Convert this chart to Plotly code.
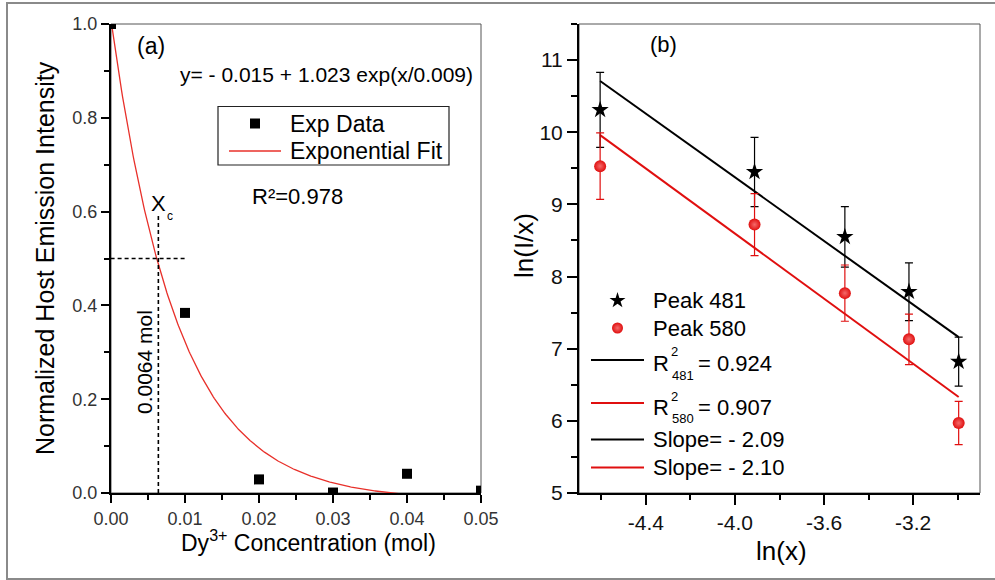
import numpy as np
import plotly.graph_objects as go

W, H = 995, 580
FONT = "Liberation Sans, Arial, sans-serif"

# ---------------- data: panel (a) ----------------
conc = [0.0, 0.01, 0.02, 0.03, 0.04, 0.05]
norm_intensity = [1.0, 0.384, 0.029, 0.001, 0.041, 0.005]
fit_offset, fit_amp, fit_decay = -0.015, 1.023, 0.009
fit_xmax = 0.039
xc_value = 0.0064
half_level = 0.5
xa_ticks = [0.0, 0.01, 0.02, 0.03, 0.04, 0.05]
ya_ticks = [0.0, 0.2, 0.4, 0.6, 0.8, 1.0]

# ---------------- data: panel (b) ----------------
conc_b = [0.01, 0.02, 0.03, 0.04, 0.05]
peak481 = [10.31, 9.45, 8.55, 7.79, 6.82]
err481 = [0.52, 0.48, 0.42, 0.40, 0.34]
peak580 = [9.53, 8.72, 7.77, 7.13, 5.97]
err580 = [0.46, 0.43, 0.39, 0.35, 0.30]
line481_ends = [10.71, 7.16]
line580_ends = [9.96, 6.33]
xb_ticks = [-4.4, -4.0, -3.6, -3.2]
xb_ticklabels = ["-4.4", "-4.0", "-3.6", "-3.2"]
yb_ticks = [5, 6, 7, 8, 9, 10, 11]

lnx = list(np.log(conc_b))
line_x = [lnx[0], lnx[-1]]

RED = "#e00f0f"
FIT_RED = "#e8302a"


def px(x):
    return x / W


def py(y):
    return 1 - y / H


fig = go.Figure()

# ---- panel (a) ----
xf = np.linspace(0, fit_xmax, 300)
yf = fit_offset + fit_amp * np.exp(-xf / fit_decay)
fig.add_trace(go.Scatter(x=xf, y=yf, mode="lines", line=dict(color=FIT_RED, width=1.3),
                         xaxis="x", yaxis="y", showlegend=False))
fig.add_trace(go.Scatter(x=[xc_value, xc_value], y=[0, 0.593], mode="lines",
                         line=dict(color="black", width=1.6, dash="4px,3px"),
                         xaxis="x", yaxis="y", showlegend=False))
fig.add_trace(go.Scatter(x=conc, y=norm_intensity, mode="markers",
                         marker=dict(symbol="square", size=10, color="black"),
                         xaxis="x", yaxis="y", showlegend=False, cliponaxis=True))

# ---- panel (b) ----
fig.add_trace(go.Scatter(x=line_x, y=line481_ends, mode="lines", line=dict(color="black", width=2),
                         xaxis="x2", yaxis="y2", showlegend=False))
fig.add_trace(go.Scatter(x=line_x, y=line580_ends, mode="lines", line=dict(color=RED, width=2),
                         xaxis="x2", yaxis="y2", showlegend=False))
fig.add_trace(go.Scatter(x=lnx, y=peak481, mode="markers",
                         marker=dict(symbol="star", size=13, color="black"),
                         error_y=dict(type="data", array=err481, color="black", thickness=1.2, width=4),
                         xaxis="x2", yaxis="y2", showlegend=False))
fig.add_trace(go.Scatter(x=lnx, y=peak580, mode="markers",
                         marker=dict(symbol="circle", size=12, color=RED,
                                     gradient=dict(type="radial", color="#f46a6a")),
                         error_y=dict(type="data", array=err580, color=RED, thickness=1.2, width=4),
                         xaxis="x2", yaxis="y2", showlegend=False))

# ---- legend symbols on a pixel overlay axis ----
fig.add_trace(go.Scatter(x=[617.5], y=[300.5], mode="markers",
                         marker=dict(symbol="star", size=12, color="black"),
                         xaxis="x3", yaxis="y3", showlegend=False, hoverinfo="skip"))
fig.add_trace(go.Scatter(x=[617.5], y=[328], mode="markers",
                         marker=dict(symbol="circle", size=11, color=RED,
                                     gradient=dict(type="radial", color="#f46a6a")),
                         xaxis="x3", yaxis="y3", showlegend=False, hoverinfo="skip"))
fig.add_trace(go.Scatter(x=[255], y=[123.5], mode="markers",
                         marker=dict(symbol="square", size=10, color="black"),
                         xaxis="x3", yaxis="y3", showlegend=False, hoverinfo="skip"))

tick_common = dict(ticks="outside", tickcolor="black", tickwidth=1.5, showline=True,
                   linecolor="black", linewidth=2, showgrid=False, zeroline=False,
                   automargin=False)

shapes = []
# outer frame
shapes.append(dict(type="rect", xref="paper", yref="paper", x0=px(7), x1=1.02, y0=py(579), y1=py(3),
                   line=dict(color="#8a8a8a", width=2), fillcolor="rgba(0,0,0,0)"))
# plot boxes
for xr, yr in (("x domain", "y domain"), ("x2 domain", "y2 domain")):
    shapes.append(dict(type="rect", xref=xr, yref=yr, x0=0, x1=1, y0=0, y1=1,
                       line=dict(color="#555", width=1), layer="below"))
# horizontal dashed at half level
shapes.append(dict(type="line", xref="x", yref="y", x0=-0.001, x1=0.0101, y0=half_level, y1=half_level,
                   line=dict(color="black", width=1.6, dash="4px,3px")))
# legend box (a)
shapes.append(dict(type="rect", xref="paper", yref="paper", x0=px(218), x1=px(449), y0=py(165), y1=py(106.5),
                   line=dict(color="#222", width=1.2)))
shapes.append(dict(type="line", xref="paper", yref="paper", x0=px(229), x1=px(281), y0=py(151), y1=py(151),
                   line=dict(color=FIT_RED, width=1.4)))
# legend lines (b)
for yy, col in ((360, "black"), (403, RED), (439.5, "black"), (467.5, RED)):
    shapes.append(dict(type="line", xref="paper", yref="paper", x0=px(591), x1=px(644), y0=py(yy), y1=py(yy),
                       line=dict(color=col, width=1.8)))

annotations = []


def ann(text, x, y, size, xanchor="center", angle=0, color="black", yanchor="middle"):
    annotations.append(dict(text=text, x=px(x), y=py(y), xref="paper", yref="paper", showarrow=False,
                            xanchor=xanchor, yanchor=yanchor, textangle=angle,
                            font=dict(family=FONT, size=size, color=color)))


# panel (a) texts
ann("(a)", 150.5, 46, 23)
ann("y= - 0.015 + 1.023 exp(x/0.009)", 326.5, 75, 21)
ann("Exp Data", 288, 123.5, 23, xanchor="left")
ann("Exponential Fit", 288, 151, 23, xanchor="left")
ann("R²=0.978", 250, 197, 22, xanchor="left")
ann("X", 158, 203, 22)
ann("c", 170, 216, 12)
ann("0.0064 mol", 144, 362, 21, angle=-90)
ann("Normalized Host Emission Intensity", 45, 258, 25, angle=-90)
ann("Dy<sup>3+</sup> Concentration (mol)", 308, 541, 23)

# panel (b) texts
ann("(b)", 663, 45, 22)
ann("ln(I/x)", 524, 246, 26, angle=-90)
ann("ln(x)", 781, 551, 26)
ann("Peak 481", 651, 300.5, 22, xanchor="left")
ann("Peak 580", 651, 328, 22, xanchor="left")
ann("R", 651, 363, 22, xanchor="left")
ann("2", 674.5, 351, 13)
ann("481", 683, 375, 13)
ann("= 0.924", 696, 363, 22, xanchor="left")
ann("R", 651, 407, 22, xanchor="left")
ann("2", 674.5, 396, 13)
ann("580", 683, 418, 13)
ann("= 0.907", 696, 407, 22, xanchor="left")
ann("Slope= - 2.09", 651, 439.5, 22, xanchor="left")
ann("Slope= - 2.10", 651, 467.5, 22, xanchor="left")

fig.update_layout(
    template="none",
    width=W, height=H, margin=dict(l=0, r=0, t=0, b=0, autoexpand=False),
    paper_bgcolor="white", plot_bgcolor="rgba(0,0,0,0)",
    font=dict(family=FONT, color="black"),
    showlegend=False,
    xaxis=dict(domain=[px(111), px(481)], range=[0, 0.05], anchor="y",
               tickmode="array", tickvals=xa_ticks, tickformat=".2f", ticklen=8,
               minor=dict(dtick=0.005, ticks="outside", ticklen=5, tickwidth=1.5, tickcolor="black"),
               tickfont=dict(size=18, color="#333"), **tick_common),
    yaxis=dict(domain=[py(493), py(24)], range=[0, 1], anchor="x",
               tickmode="array", tickvals=ya_ticks, tickformat=".1f", ticklen=8,
               minor=dict(dtick=0.1, ticks="outside", ticklen=5, tickwidth=1.5, tickcolor="black"),
               tickfont=dict(size=18, color="#333"), **tick_common),
    xaxis2=dict(domain=[px(579), px(980)], range=[-4.7, -2.9], anchor="y2",
                tickmode="array", tickvals=xb_ticks, ticktext=xb_ticklabels, ticklen=10,
                minor=dict(dtick=0.2, tick0=-4.6, ticks="outside", ticklen=5, tickwidth=1.5, tickcolor="black"),
                tickfont=dict(size=21, color="#111"), **tick_common),
    yaxis2=dict(domain=[py(493), py(24)], range=[5, 11.5], anchor="x2",
                tickmode="array", tickvals=yb_ticks, ticklen=10,
                minor=dict(dtick=0.5, tick0=5, ticks="outside", ticklen=6, tickwidth=1.5, tickcolor="black"),
                tickfont=dict(size=21, color="#111"), **tick_common),
    xaxis3=dict(domain=[0, 1], range=[0, W], anchor="y3", visible=False, fixedrange=True, automargin=False),
    yaxis3=dict(domain=[0, 1], range=[H, 0], anchor="x3", visible=False, fixedrange=True, automargin=False),
    shapes=shapes,
    annotations=annotations,
)

fig.write_html("out.html")
